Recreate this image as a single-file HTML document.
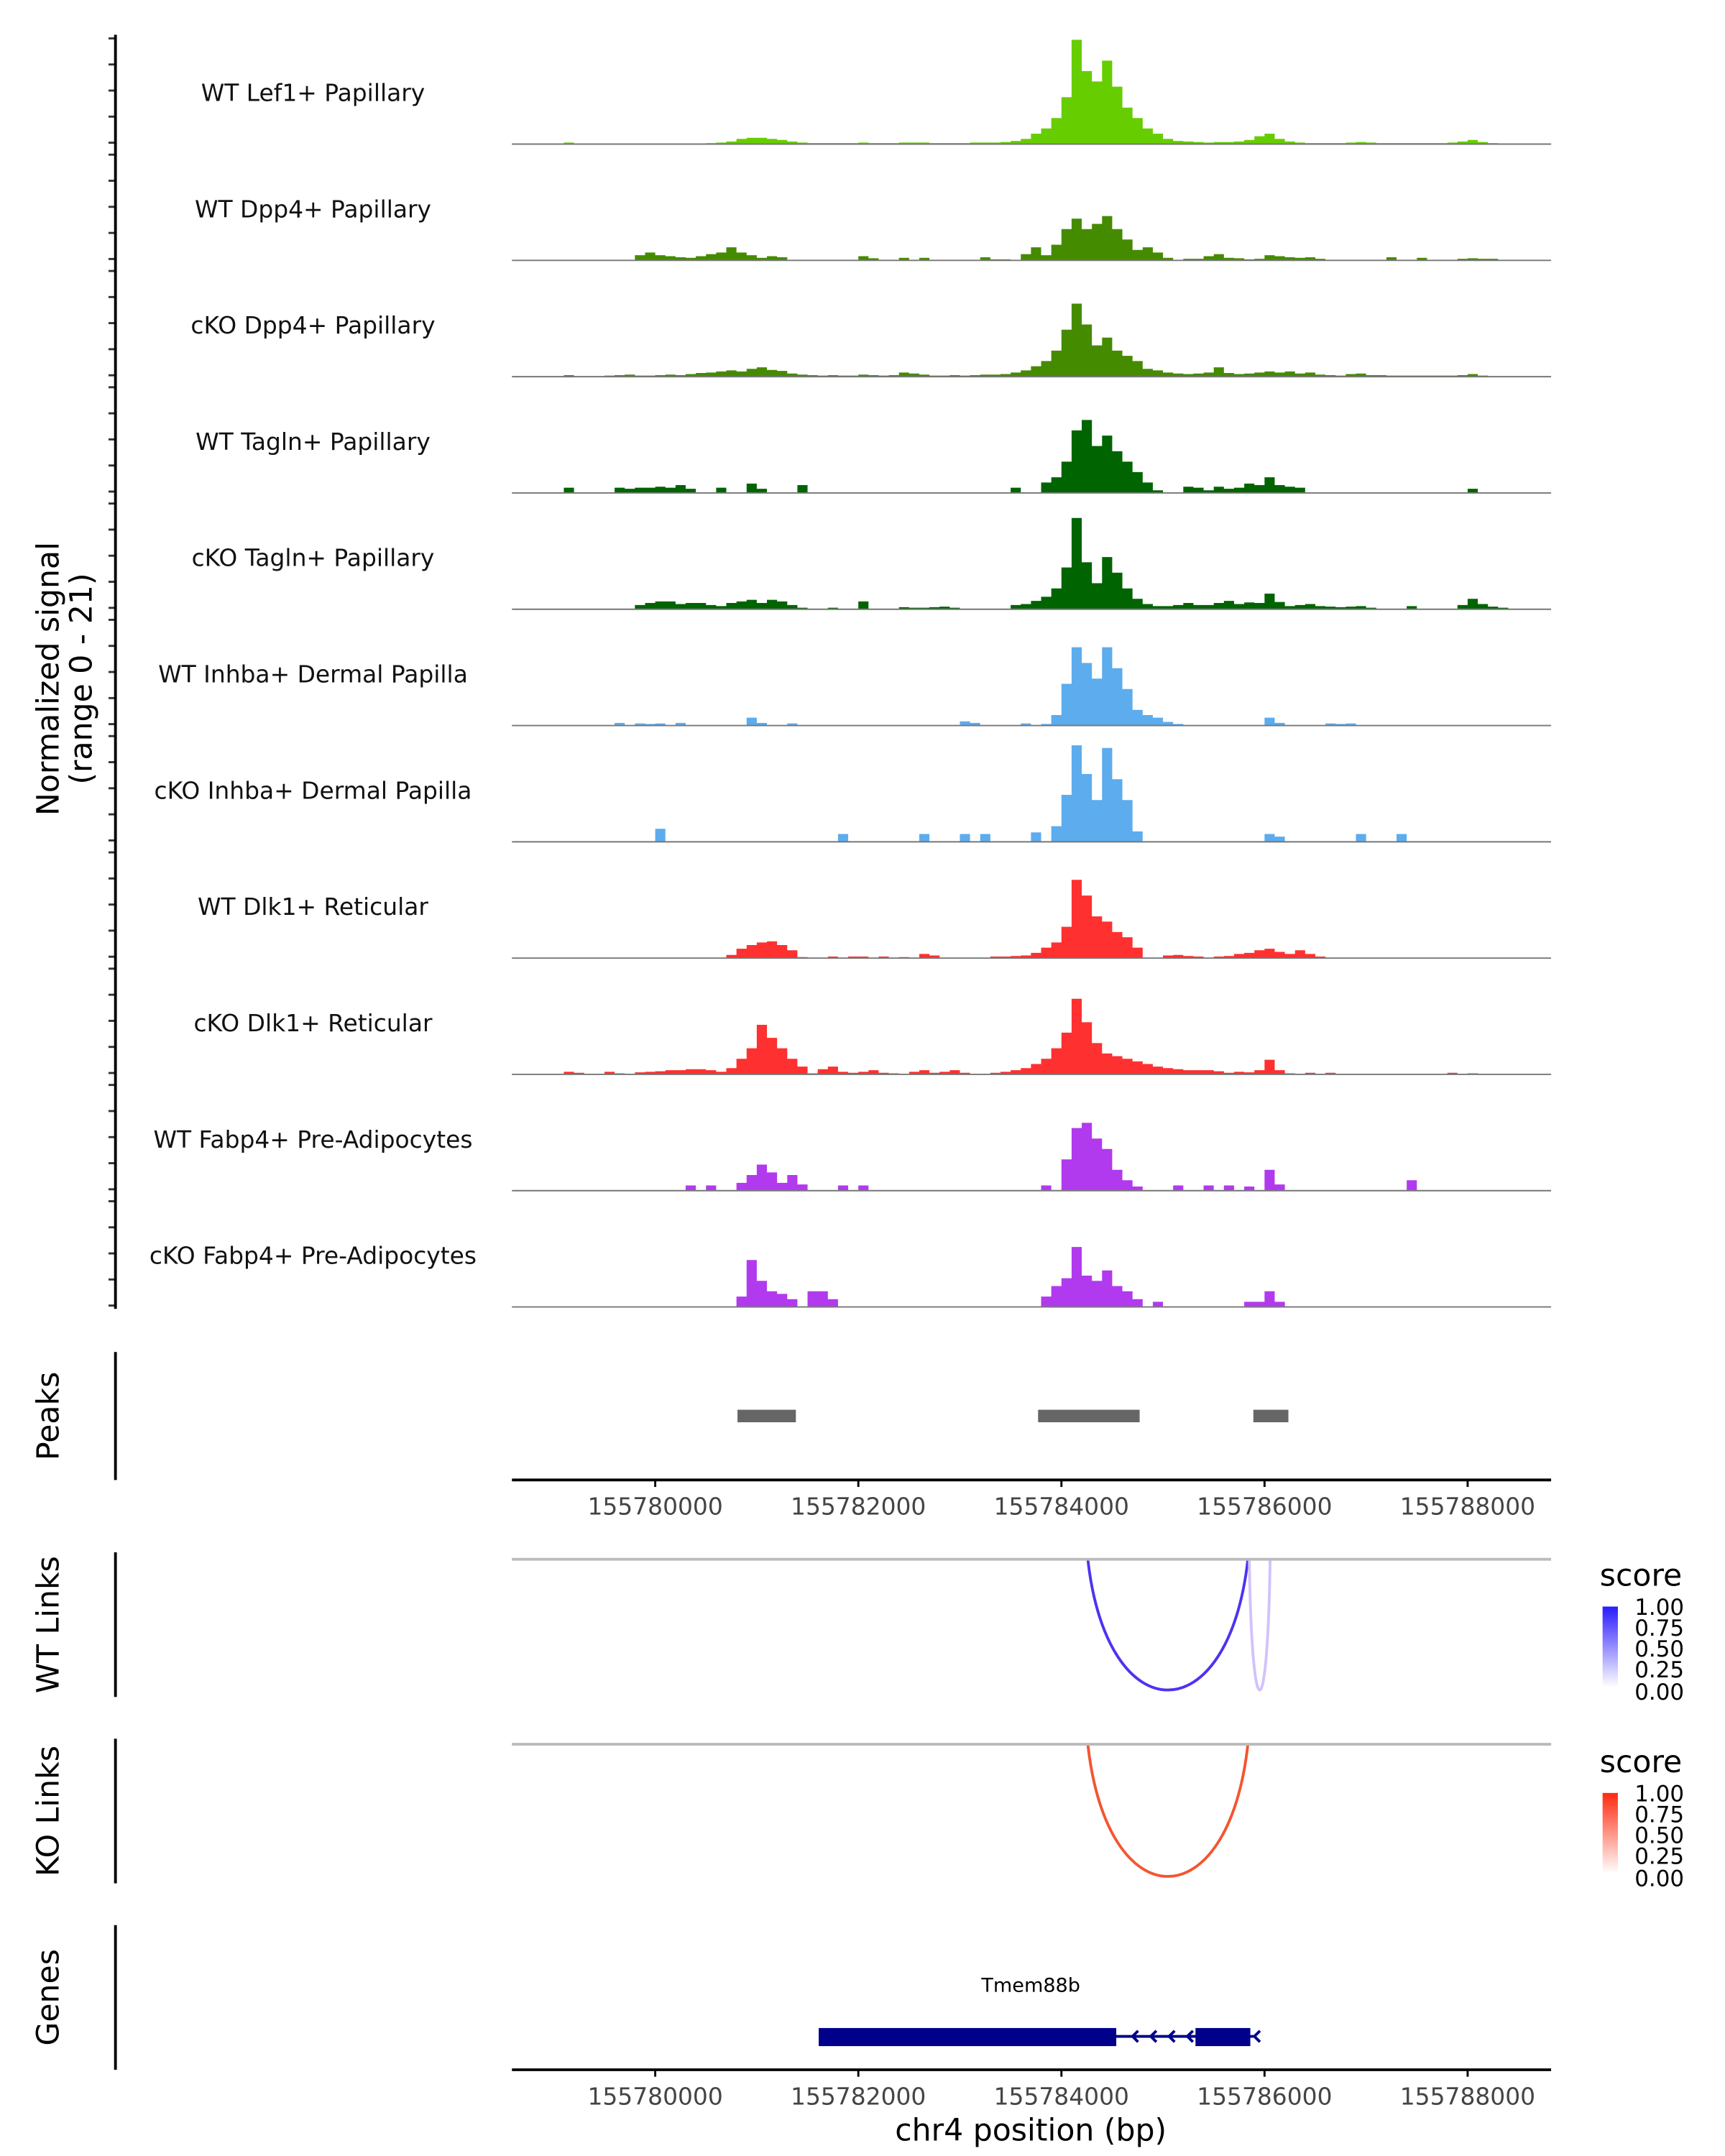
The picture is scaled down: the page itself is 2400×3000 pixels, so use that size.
<!DOCTYPE html>
<html><head><meta charset="utf-8"><style>
html,body{margin:0;padding:0;background:#fff}
svg{display:block;font-family:"DejaVu Sans","Liberation Sans",sans-serif}
</style></head><body>
<svg id="chart" xmlns="http://www.w3.org/2000/svg" width="2400" height="3000" viewBox="0 0 1240 1550">
<rect width="1240" height="1550" fill="#fff"/>
<defs>
  <linearGradient id="gb" x1="0" y1="0" x2="0" y2="1"><stop offset="0" stop-color="#2a1bff"/><stop offset="1" stop-color="#fff"/></linearGradient>
  <linearGradient id="gr" x1="0" y1="0" x2="0" y2="1"><stop offset="0" stop-color="#ff2a10"/><stop offset="1" stop-color="#fff"/></linearGradient>
</defs>
<g id="tracks"></g>
<g id="static">
  <text transform="translate(42,488) rotate(-90)" text-anchor="middle" font-size="22" fill="#000">Normalized signal</text>
  <text transform="translate(66,488) rotate(-90)" text-anchor="middle" font-size="22" fill="#000">(range 0 - 21)</text>
  <line x1="83" y1="25" x2="83" y2="941" stroke="#000" stroke-width="2"/>
  <line x1="83" y1="972" x2="83" y2="1064" stroke="#000" stroke-width="2"/>
  <text transform="translate(42,1018) rotate(-90)" text-anchor="middle" font-size="22">Peaks</text>
  <line x1="83" y1="1116" x2="83" y2="1220" stroke="#000" stroke-width="2"/>
  <text transform="translate(42,1168) rotate(-90)" text-anchor="middle" font-size="22">WT Links</text>
  <line x1="83" y1="1250" x2="83" y2="1354" stroke="#000" stroke-width="2"/>
  <text transform="translate(42,1302) rotate(-90)" text-anchor="middle" font-size="22">KO Links</text>
  <line x1="83" y1="1384" x2="83" y2="1488" stroke="#000" stroke-width="2"/>
  <text transform="translate(42,1436) rotate(-90)" text-anchor="middle" font-size="22">Genes</text>
  <line x1="368" y1="1121" x2="1115" y2="1121" stroke="#bbb" stroke-width="2"/>
  <line x1="368" y1="1254" x2="1115" y2="1254" stroke="#bbb" stroke-width="2"/>
  <text x="741" y="1539" text-anchor="middle" font-size="22">chr4 position (bp)</text>
  <g>
    <text x="1150" y="1140" font-size="22">score</text>
    <rect x="1152" y="1155" width="11" height="58" fill="url(#gb)"/>
    <g font-size="16"><text x="1175" y="1161">1.00</text><text x="1175" y="1176">0.75</text><text x="1175" y="1191">0.50</text><text x="1175" y="1206">0.25</text><text x="1175" y="1222">0.00</text></g>
  </g>
  <g>
    <text x="1150" y="1274" font-size="22">score</text>
    <rect x="1152" y="1289" width="11" height="58" fill="url(#gr)"/>
    <g font-size="16"><text x="1175" y="1295">1.00</text><text x="1175" y="1310">0.75</text><text x="1175" y="1325">0.50</text><text x="1175" y="1340">0.25</text><text x="1175" y="1356">0.00</text></g>
  </g>
  <text x="741" y="1432" text-anchor="middle" font-size="14">Tmem88b</text>
</g>
</svg>
<script>
const binStart = 155779000;
const binSize = 100;
const trackNames = ["WT Lef1+ Papillary","WT Dpp4+ Papillary","cKO Dpp4+ Papillary","WT Tagln+ Papillary","cKO Tagln+ Papillary","WT Inhba+ Dermal Papilla","cKO Inhba+ Dermal Papilla","WT Dlk1+ Reticular","cKO Dlk1+ Reticular","WT Fabp4+ Pre-Adipocytes","cKO Fabp4+ Pre-Adipocytes"];
const trackColors = ["#66cd00","#458b00","#458b00","#006400","#006400","#5cacee","#5cacee","#ff3030","#ff3030","#b23aee","#b23aee"];
const sigLef1WT = [0,0.3,0,0,0,0,0,0,0,0, 0,0,0,0,0,0.2,0.3,0.5,1,1.2, 1.2,1,0.8,0.5,0.3,0.2,0.2,0.2,0.2,0.2, 0.3,0.2,0.2,0.2,0.3,0.3,0.3,0.2,0.2,0.2, 0.2,0.3,0.3,0.3,0.4,0.6,1,2,3,5, 9,20,14,12,16,11,7,5,3,2, 1,0.6,0.5,0.4,0.3,0.4,0.4,0.5,0.8,1.5, 2,1,0.5,0.3,0.2,0.2,0.2,0.2,0.3,0.4, 0.3,0.2,0.2,0.2,0.2,0.2,0.2,0.2,0.3,0.5, 0.8,0.4,0.2,0,0];
const sigDpp4WT = [0,0,0,0,0,0,0,0,1,1.5, 1,0.8,0.6,0.5,0.8,1.2,1.5,2.5,1.5,1, 0.5,0.8,0.6,0,0,0,0,0,0,0, 0.8,0.4,0,0,0.5,0,0.5,0,0,0, 0,0,0.6,0.2,0.2,0,1.2,2.5,1,3, 6,8,6,7,8.5,6,4,2,2.5,1.5, 0.5,0,0.3,0.3,0.8,1.2,0.5,0.4,0.2,0.3, 1,0.8,0.6,0.5,0.6,0.3,0,0,0,0, 0,0,0.6,0,0,0.5,0,0,0,0.3, 0.4,0.3,0.3,0,0];
const sigDpp4KO = [0,0.3,0,0,0,0.2,0.3,0.4,0.2,0.2, 0.3,0.4,0.3,0.5,0.7,0.8,1,1.2,1,1.5, 1.8,1.3,1.1,0.6,0.4,0.3,0.2,0.3,0.2,0.2, 0.4,0.3,0.2,0.3,0.8,0.6,0.4,0.2,0.2,0.3, 0.2,0.3,0.4,0.4,0.5,0.8,1.2,2,3,5, 9,14,10,6,7.5,5,4,3,1.5,1.2, 0.8,0.6,0.5,0.6,0.8,1.8,0.7,0.5,0.6,0.8, 1,0.8,1,0.6,0.8,0.4,0.3,0.2,0.5,0.6, 0.3,0.3,0.2,0.2,0.2,0.2,0.2,0.2,0.2,0.3, 0.5,0.2,0,0,0];
const sigTaglnWT = [0,1,0,0,0,0,1,0.8,1,1, 1.2,1,1.5,0.8,0,0,1,0,0,1.8, 0.8,0,0,0,1.5,0,0,0,0,0, 0,0,0,0,0,0,0,0,0,0, 0,0,0,0,0,1,0,0,2,3, 6,12,14,9,11,8,6,4,2,0.5, 0,0,1.2,1,0.5,1.2,0.8,1,1.8,1.5, 3,1.5,1.2,1,0,0,0,0,0,0, 0,0,0,0,0,0,0,0,0,0, 0.8,0,0,0,0];
const sigTaglnKO = [0,0,0,0,0,0,0,0,0.8,1.2, 1.5,1.5,1,1.2,1.2,0.8,0.6,1.2,1.5,1.8, 1.2,1.8,1.5,0.8,0.3,0,0,0.3,0,0, 1.5,0,0,0,0.4,0.3,0.3,0.4,0.5,0.3, 0,0,0,0,0,0.8,1,1.6,2.4,4, 8,17.5,9,5,10,7,4,2,1,0.6, 0.6,0.8,1.2,0.8,0.8,1.2,1.6,1,1.3,1.2, 3,1.4,0.6,0.8,1,0.6,0.5,0.4,0.5,0.6, 0.3,0,0,0,0.6,0,0,0,0,0.8, 2,1,0.5,0.3,0];
const sigInhbaWT = [0,0,0,0,0,0,0.5,0,0.4,0.3, 0.4,0,0.5,0,0,0,0,0,0,1.5, 0.5,0,0,0.4,0,0,0,0,0,0, 0,0,0,0,0,0,0,0,0,0, 0.8,0.5,0,0,0,0,0.4,0,0.3,2, 8,15,12,9,15,11,7,3,2,1.5, 0.7,0.3,0,0,0,0,0,0,0,0, 1.5,0.5,0,0,0,0,0.4,0.3,0.4,0, 0,0,0,0,0,0,0,0,0,0, 0,0,0,0,0];
const sigInhbaKO = [0,0,0,0,0,0,0,0,0,0, 2.5,0,0,0,0,0,0,0,0,0, 0,0,0,0,0,0,0,0,1.5,0, 0,0,0,0,0,0,1.5,0,0,0, 1.5,0,1.5,0,0,0,0,1.8,0,3, 9,18.5,13,8,18,12,8,2,0,0, 0,0,0,0,0,0,0,0,0,0, 1.5,1,0,0,0,0,0,0,0,1.5, 0,0,0,1.5,0,0,0,0,0,0, 0,0,0,0,0];
const sigDlk1WT = [0,0,0,0,0,0,0,0,0,0, 0,0,0,0,0,0,0,0.6,1.8,2.5, 3,3.2,2.5,1.5,0.2,0,0,0.3,0,0.3, 0.3,0,0.3,0,0.2,0,0.8,0.5,0,0, 0,0,0,0.3,0.3,0.4,0.5,1,2,3, 6,15,12,8,7,5,4,2,0,0, 0.5,0.6,0.4,0.3,0,0.3,0.4,0.8,1,1.5, 1.8,1.2,0.8,1.5,0.8,0.3,0,0,0,0, 0,0,0,0,0,0,0,0,0,0, 0,0,0,0,0];
const sigDlk1KO = [0,0.5,0.3,0,0,0.5,0.2,0,0.4,0.5, 0.6,0.8,0.8,1,1,0.8,0.5,1.2,3,5, 9.5,7,5,3,1.5,0.2,1,1.5,0.5,0.3, 0.5,0.8,0.3,0.2,0,0.5,0.8,0.3,0.5,0.8, 0.3,0,0,0.3,0.5,0.8,1.2,2,3,5, 8,14.5,10,6,4,3.5,3,2.5,2,1.5, 1.2,1,0.8,0.8,0.8,0.6,0.3,0.5,0.4,0.8, 2.8,0.8,0.2,0,0.3,0,0.3,0,0,0, 0,0,0,0,0,0,0,0,0.3,0, 0.2,0,0,0,0];
const sigFabp4WT = [0,0,0,0,0,0,0,0,0,0, 0,0,0,1,0,1,0,0,1.5,3, 5,3.5,1.5,3,1.2,0,0,0,1,0, 1,0,0,0,0,0,0,0,0,0, 0,0,0,0,0,0,0,0,1,0, 6,12,13,10,8,4,2,0.8,0,0, 0,1,0,0,1,0,1,0,0.8,0, 4,1.2,0,0,0,0,0,0,0,0, 0,0,0,0,2,0,0,0,0,0, 0,0,0,0,0];
const sigFabp4KO = [0,0,0,0,0,0,0,0,0,0, 0,0,0,0,0,0,0,0,2,9, 5,3,2.5,1.5,0,3,3,1.5,0,0, 0,0,0,0,0,0,0,0,0,0, 0,0,0,0,0,0,0,0,2,4, 5.5,11.5,6,5,7,4,3,1.5,0,1, 0,0,0,0,0,0,0,0,1,1, 3,1,0,0,0,0,0,0,0,0, 0,0,0,0,0,0,0,0,0,0, 0,0,0,0,0];
const trackSignals = [sigLef1WT,sigDpp4WT,sigDpp4KO,sigTaglnWT,sigTaglnKO,sigInhbaWT,sigInhbaKO,sigDlk1WT,sigDlk1KO,sigFabp4WT,sigFabp4KO];
const yTickValues = [0, 5, 10, 15, 20];
const peakStarts = [155780810, 155783770, 155785890];
const peakEnds = [155781385, 155784770, 155786235];
const xTickValues = [155780000, 155782000, 155784000, 155786000, 155788000];
const wtLinkStarts = [155784260, 155785850];
const wtLinkEnds = [155785836, 155786055];
const wtLinkScores = [0.85, 0.25];
const koLinkStarts = [155784260];
const koLinkEnds = [155785836];
const koLinkScores = [0.75];
const geneStart = 155781610;
const geneEnd = 155785900;
const exonStarts = [155781610, 155785320];
const exonEnds = [155784540, 155785860];
const arrowPositions = [155784700, 155784880, 155785060, 155785240];

const NS = "http://www.w3.org/2000/svg";
const X0 = 368, X1 = 1115;
const pxPerUnit = 3.75;
function xScale(bp){ return 471 + (bp - 155780000) * 0.073; }
const trackTop0 = 20, trackH = 83.6;
function el(tag, attrs, parent){ const e = document.createElementNS(NS, tag); for (const k in attrs) e.setAttribute(k, attrs[k]); parent.appendChild(e); return e; }
const g = document.getElementById("tracks");

trackSignals.forEach((sig, ti) => {
  const base = trackTop0 + trackH * (ti + 1);
  const yS = v => base - v * pxPerUnit;
  yTickValues.forEach(v => {
    const y = yS(v) - 1;
    const t = el("line", {x1:78, x2:83, y1:y, y2:y, stroke:"#333", "stroke-width":1.5}, g);
    
    
  });
  let d = "M" + xScale(binStart) + "," + base;
  sig.forEach((v, k) => {
    const xa = xScale(binStart + k * binSize), xb = xScale(binStart + (k + 1) * binSize);
    d += " L" + xa + "," + yS(v) + " L" + xb + "," + yS(v);
  });
  d += " L" + xScale(binStart + sig.length * binSize) + "," + base + " Z";
  const area = el("path", {d: d, fill: trackColors[ti]}, g);
  
  
  const bl = el("line", {x1:X0, x2:X1, y1:base, y2:base, stroke:"#777", "stroke-width":1}, g);
  
  
  const lab = el("text", {x:225, y:base - 31, "text-anchor":"middle", "font-size":17, fill:"#111"}, g);
  lab.textContent = trackNames[ti];
  
  
});

peakStarts.forEach((s, i) => {
  const r = el("rect", {x:xScale(s), y:1013.5, width:xScale(peakEnds[i]) - xScale(s), height:9, fill:"#666"}, g);
  
  
});

function xAxis(y){
  const a = el("line", {x1:X0, x2:X1, y1:y, y2:y, stroke:"#000", "stroke-width":2}, g);
  
  
  xTickValues.forEach(v => {
    const x = xScale(v);
    const t = el("line", {x1:x, x2:x, y1:y, y2:y + 5, stroke:"#000", "stroke-width":1.5}, g);
    
    
    const tx = el("text", {x:x, y:y + 25, "text-anchor":"middle", "font-size":17, fill:"#444"}, g);
    tx.textContent = String(v);
    
    
  });
}
xAxis(1064);
xAxis(1488);

function arcs(starts, ends, scores, baseY, depth, color, light){
  starts.forEach((s, i) => {
    const xa = xScale(s), xb = xScale(ends[i]), w = xb - xa;
    const cy = baseY + depth * 4 / 3;
    const d = "M" + xa + "," + baseY + " C" + (xa + w * 0.12) + "," + cy + " " + (xb - w * 0.12) + "," + cy + " " + xb + "," + baseY;
    const c = scores[i] > 0.5 ? color : light;
    const p = el("path", {d: d, fill:"none", stroke:c, "stroke-width":2}, g);
    
    
  });
}
arcs(wtLinkStarts, wtLinkEnds, wtLinkScores, 1121, 94, "#4c33f2", "#d2c2fb");
arcs(koLinkStarts, koLinkEnds, koLinkScores, 1254, 95, "#f4552f", "#fcc");

const gl = el("line", {x1:xScale(geneStart), x2:xScale(geneEnd), y1:1464, y2:1464, stroke:"#00008b", "stroke-width":2}, g);


exonStarts.forEach((s, i) => {
  const r = el("rect", {x:xScale(s), y:1458, width:xScale(exonEnds[i]) - xScale(s), height:13, fill:"#00008b"}, g);
  
  
});
arrowPositions.concat([geneEnd]).forEach(p => {
  const x = xScale(p);
  const a = el("path", {d:"M" + (x + 4) + ",1460 L" + x + ",1464 L" + (x + 4) + ",1468", fill:"none", stroke:"#00008b", "stroke-width":2}, g);
  
  
});
</script>
</body></html>
